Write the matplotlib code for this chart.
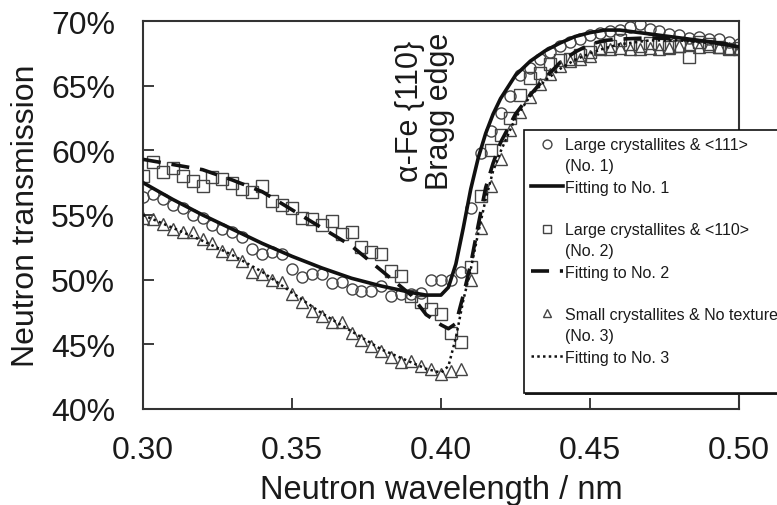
import numpy as np
import matplotlib
matplotlib.use('Agg')
import matplotlib.pyplot as plt
import matplotlib.patheffects as pe
from matplotlib.lines import Line2D
from matplotlib.ticker import FuncFormatter

# Measured points: common wavelength grid (nm), 61 points from 0.30 to 0.50
wavelength = np.linspace(0.30, 0.50, 61)

# No. 1: large crystallites & <111>  (transmission, %)
trans_no1 = [56.4, 56.6, 56.2, 55.8, 55.5, 55.0, 54.8, 54.2, 53.9, 53.7,
             53.3, 52.4, 52.0, 52.1, 52.0, 50.8, 50.2, 50.4, 50.4, 49.7,
             49.8, 49.3, 49.1, 49.1, 49.5, 48.7, 48.9, 48.9, 49.0, 50.0,
             50.0, 50.0, 50.6, 55.5, 59.8, 61.5, 62.9, 64.2, 65.8, 66.4,
             67.1, 67.6, 68.1, 68.4, 68.6, 68.9, 69.1, 69.2, 69.3, 69.5,
             69.8, 69.4, 69.2, 69.0, 68.9, 68.7, 68.8, 68.6, 68.6, 68.4,
             68.2]

# No. 2: large crystallites & <110>
trans_no2 = [58.0, 59.1, 58.3, 58.6, 58.0, 57.6, 57.2, 57.9, 57.8, 57.5,
             57.0, 56.8, 57.2, 56.1, 55.8, 55.5, 54.8, 54.7, 54.2, 54.5,
             53.5, 53.7, 52.5, 52.1, 52.0, 50.7, 50.3, 48.7, 48.3, 47.7,
             47.3, 45.9, 45.2, 51.0, 56.5, 60.0, 61.2, 62.5, 64.3, 65.6,
             66.0, 66.7, 67.0, 67.1, 67.4, 67.6, 67.9, 68.1, 68.5, 68.2,
             68.1, 68.3, 68.2, 68.0, 68.1, 67.2, 68.4, 68.2, 68.0, 67.8,
             67.9]

# No. 3: small crystallites & no texture
trans_no3 = [54.8, 54.7, 54.3, 53.9, 53.7, 53.7, 53.1, 52.8, 52.2, 52.0,
             51.4, 50.6, 50.4, 50.0, 49.8, 48.9, 48.3, 47.6, 47.2, 46.7,
             46.7, 45.9, 45.3, 44.9, 44.5, 44.0, 43.6, 43.7, 43.3, 43.1,
             42.7, 42.9, 43.1, 50.0, 54.0, 57.2, 59.3, 61.6, 63.0, 64.1,
             65.1, 65.9, 66.5, 66.9, 67.1, 67.3, 67.8, 67.8, 67.9, 67.8,
             67.8, 67.9, 67.8, 67.9, 68.1, 68.2, 68.0, 68.1, 68.0, 67.9,
             67.8]

# Fitted curves
fit_wavelength = [0.30, 0.31, 0.32, 0.33, 0.34, 0.35, 0.36, 0.37, 0.38, 0.39,
                  0.395, 0.40, 0.4025, 0.405, 0.4075, 0.41, 0.4125, 0.415,
                  0.4175, 0.42, 0.425, 0.43, 0.435, 0.44, 0.445, 0.45, 0.455,
                  0.46, 0.47, 0.48, 0.49, 0.50]
fit_no1 = [57.5, 56.2, 55.0, 53.9, 52.8, 51.8, 50.9, 50.1, 49.5, 49.0,
           48.8, 48.8, 49.4, 51.2, 54.0, 57.0, 59.4, 61.3, 62.8, 64.0,
           65.8, 66.9, 67.7, 68.3, 68.8, 69.1, 69.3, 69.3, 69.0, 68.7,
           68.4, 68.0]
fit_no2 = [59.3, 58.9, 58.5, 57.7, 56.8, 55.4, 54.0, 52.6, 50.7, 48.8,
           47.3, 46.5, 46.2, 46.6, 48.8, 51.2, 54.2, 57.1, 59.0, 60.6,
           62.8, 64.3, 65.6, 66.8, 67.6, 68.2, 68.5, 68.6, 68.7, 68.6,
           68.4, 68.1]
fit_no3 = [55.0, 54.0, 53.0, 51.9, 50.6, 49.0, 47.4, 46.0, 44.6, 43.6,
           43.1, 42.8, 43.3, 45.5, 48.4, 50.8, 53.6, 56.2, 58.4, 59.9,
           62.5, 64.2, 65.4, 66.3, 67.0, 67.5, 67.9, 68.2, 68.5, 68.5,
           68.3, 68.0]

sample_names = ['Large crystallites & <111>', 'Large crystallites & <110>',
                'Small crystallites & No texture']
sample_ids = ['(No. 1)', '(No. 2)', '(No. 3)']
fit_names = ['Fitting to No. 1', 'Fitting to No. 2', 'Fitting to No. 3']

plt.rcParams['font.family'] = ['Liberation Sans', 'DejaVu Sans']
ink = '#1a1a1a'

fig = plt.figure(figsize=(7.77, 5.06), dpi=100)
ax = fig.add_axes([0.184, 0.19, 0.767, 0.7665])

mk = dict(linestyle='none', markerfacecolor='none', markeredgecolor='#444444',
          markeredgewidth=1.0, zorder=2)
h1, = ax.plot(wavelength, trans_no1, marker='o', markersize=8, **mk)
f1, = ax.plot(fit_wavelength, fit_no1, color='#111111', lw=2.6, zorder=3)
h2, = ax.plot(wavelength, trans_no2, marker='s', markersize=8, **mk)
f2, = ax.plot(fit_wavelength, fit_no2, color='#111111', lw=2.6,
              dashes=(5, 3), zorder=3)
h3, = ax.plot(wavelength, trans_no3, marker='^', markersize=8, **mk)
f3, = ax.plot(fit_wavelength, fit_no3, color='#111111', lw=1.8,
              linestyle=(0, (1, 1.3)), zorder=3)

ax.set_xlim(0.30, 0.50)
ax.set_ylim(40, 70)
ax.set_xticks([0.30, 0.35, 0.40, 0.45, 0.50])
ax.set_yticks([40, 45, 50, 55, 60, 65, 70])
ax.xaxis.set_major_formatter(FuncFormatter(lambda v, p: f'{v:.2f}'))
ax.yaxis.set_major_formatter(FuncFormatter(lambda v, p: f'{v:.0f}%'))
ax.tick_params(direction='in', length=8, width=1.2, labelsize=23,
               colors=ink)
ax.tick_params(axis='y', pad=20)
ax.tick_params(axis='x', pad=19)
for s in ax.spines.values():
    s.set_linewidth(1.5)
    s.set_color('#333333')

ax.set_xlabel('Neutron wavelength / nm', fontsize=23.5, color=ink,
              labelpad=6)
ax.set_ylabel('Neutron transmission', fontsize=23, color=ink, labelpad=7)

ax.text(0.3945, 69.2, 'α-Fe {110}\nBragg edge', rotation=90, fontsize=22,
        ha='center', va='top', multialignment='center', color=ink,
        linespacing=1.0)

# legend: each sample's id on its own row, blank rows between groups
blank = Line2D([], [], linestyle='none')
handles = [h1, blank, f1, blank, h2, blank, f2, blank, h3, blank, f3, blank]
texts = [sample_names[0], sample_ids[0], fit_names[0], ' ',
         sample_names[1], sample_ids[1], fit_names[1], ' ',
         sample_names[2], sample_ids[2], fit_names[2], ' ']
leg = fig.legend(handles, texts,
                 bbox_to_anchor=(0.674, 0.231, 0.34, 0.51),
                 bbox_transform=fig.transFigure, loc='upper left',
                 mode='expand', fontsize=11.5, frameon=True, fancybox=False,
                 framealpha=1, edgecolor='#111111', labelspacing=0.39,
                 handlelength=2.0, handletextpad=0.15, borderpad=0.45,
                 borderaxespad=0, markerscale=0.8)
frame = leg.get_frame()
frame.set_linewidth(1.2)
frame.set_path_effects([pe.SimplePatchShadow(offset=(1.2, -1.2),
                                             shadow_rgbFace='#222222',
                                             alpha=1),
                        pe.Normal()])
for t in leg.get_texts():
    t.set_color(ink)

fig.savefig('out.png', dpi=100)
